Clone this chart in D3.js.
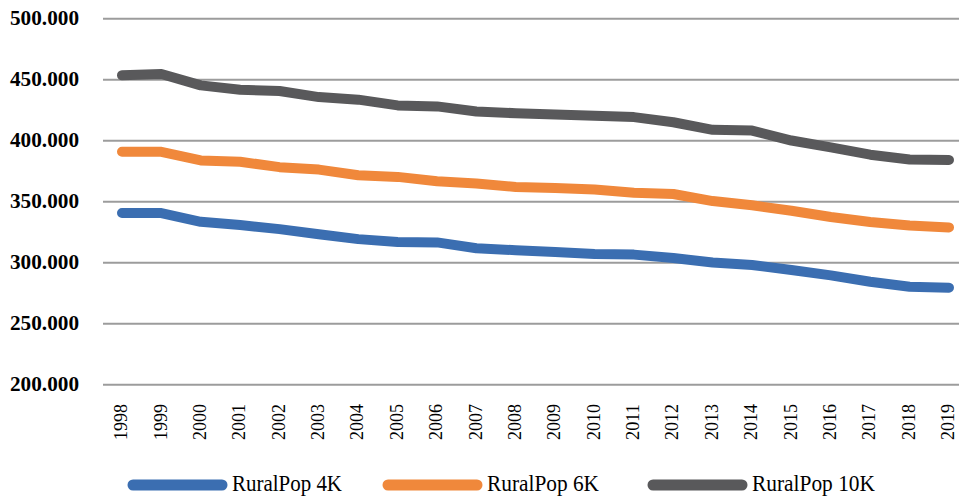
<!DOCTYPE html>
<html>
<head>
<meta charset="utf-8">
<script src="https://cdn.jsdelivr.net/npm/d3@7"></script>
<style>
  body { margin: 0; background: #fff; }
  svg { display: block; }
</style>
</head>
<body>
<svg width="959" height="499"></svg>
<script>
// data
let years = ["1998", "1999", "2000", "2001", "2002", "2003", "2004", "2005", "2006", "2007", "2008",
    "2009", "2010", "2011", "2012", "2013", "2014", "2015", "2016", "2017", "2018", "2019"];

let pop4k = [340400, 340400, 333200, 330500, 327200, 323000, 319000, 316700, 316300, 311500, 309900,
    308500, 306800, 306300, 303500, 299800, 297800, 293700, 289300, 284100, 280000, 279200];

let pop6k = [390600, 390600, 383500, 382400, 378000, 376000, 371400, 370000, 366500, 364600, 361800,
    361000, 359600, 357000, 356000, 350200, 346700, 342300, 337100, 333000, 330200, 328600];

let pop10k = [453300, 454300, 445000, 441500, 440400, 435400, 433300, 428600, 427800, 423600, 422200,
    421200, 420100, 419000, 414800, 408600, 408000, 399800, 394200, 388200, 384300, 383900];

let yTicks = [200000, 250000, 300000, 350000, 400000, 450000, 500000];

let seriesNames = ["RuralPop 4K", "RuralPop 6K", "RuralPop 10K"];
let seriesColors = ["#3b6eb1", "#f0883b", "#59595b"];

let svg = d3.select("svg"),
    width = +svg.attr("width"),
    height = +svg.attr("height");

// scales
let x = d3.scalePoint()
    .domain(years)
    .range([122, 949]);

let y = d3.scaleLinear()
    .domain([200000, 500000])
    .range([384.3, 18.3]);

let fmt = d3.formatLocale({ decimal: ",", thousands: ".", grouping: [3], currency: ["", ""] }).format(",d");

// grid + y labels
let yAxis = svg.append("g")
    .attr("transform", "translate(103,0)")
    .call(d3.axisLeft(y).tickValues(yTicks).tickSize(-(width - 103)).tickFormat(fmt).tickPadding(24));

yAxis.select(".domain").remove();
yAxis.selectAll(".tick line")
    .attr("stroke", "#9c9c9c")
    .attr("stroke-width", 2);
yAxis.selectAll(".tick text")
    .attr("fill", "#000")
    .attr("font-family", "Liberation Serif")
    .attr("font-weight", "bold")
    .attr("font-size", 20)
    .attr("textLength", 69)
    .attr("lengthAdjust", "spacingAndGlyphs");

// x labels (rotated, reading upwards)
let xAxis = svg.append("g")
    .attr("transform", "translate(0,404)")
    .call(d3.axisBottom(x).tickSize(0).tickPadding(0));

xAxis.select(".domain").remove();
xAxis.selectAll(".tick text")
    .attr("fill", "#000")
    .attr("transform", "rotate(-90)")
    .attr("text-anchor", "end")
    .attr("x", 0)
    .attr("y", -2)
    .attr("dy", "0.35em")
    .attr("font-family", "Liberation Serif")
    .attr("font-size", 19)
    .attr("textLength", 36)
    .attr("lengthAdjust", "spacingAndGlyphs");

// lines
let line = d3.line()
    .x((d, i) => x(years[i]))
    .y(d => y(d));

[pop4k, pop6k, pop10k].forEach((vals, i) => {
    svg.append("path")
        .datum(vals)
        .attr("fill", "none")
        .attr("stroke", seriesColors[i])
        .attr("stroke-width", 10)
        .attr("stroke-linecap", "round")
        .attr("stroke-linejoin", "round")
        .attr("d", line);
});

// legend
let legendX = [133, 388, 653];
let legendW = [110, 112, 123];

let legend = svg.append("g")
    .selectAll("g")
    .data(seriesNames)
    .enter()
    .append("g")
    .attr("transform", (d, i) => "translate(" + legendX[i] + ",485)");

legend.append("line")
    .attr("x1", 0)
    .attr("x2", 89)
    .attr("stroke", (d, i) => seriesColors[i])
    .attr("stroke-width", 11)
    .attr("stroke-linecap", "round");

legend.append("text")
    .attr("x", 99)
    .attr("y", 6)
    .attr("font-family", "Liberation Serif")
    .attr("font-size", 23)
    .attr("textLength", (d, i) => legendW[i])
    .attr("lengthAdjust", "spacingAndGlyphs")
    .text(d => d);
</script>
</body>
</html>
